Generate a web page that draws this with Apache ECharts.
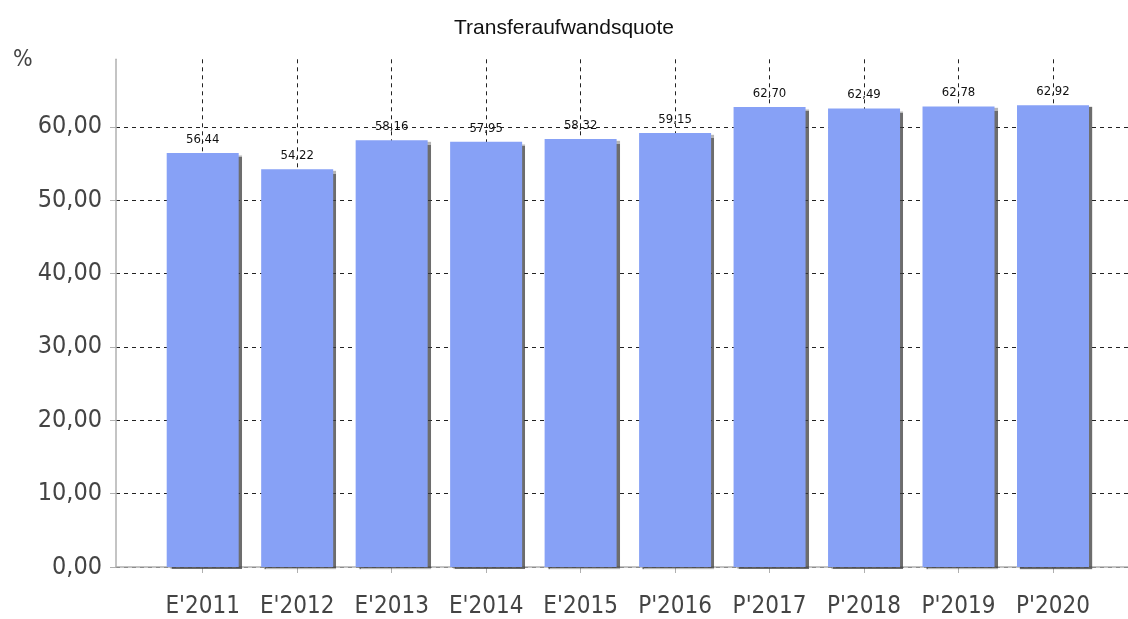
<!DOCTYPE html>
<html>
<head>
<meta charset="utf-8">
<title>Transferaufwandsquote</title>
<script src="https://cdn.jsdelivr.net/npm/echarts@6/dist/echarts.min.js"></script>
<style>
    html, body { margin: 0; padding: 0; background: #fff; }
    #chart { width: 1128px; height: 619px; }
</style>
</head>
<body>
<div id="chart"></div>
<script>
// Daten
var jahre = ["E'2011", "E'2012", "E'2013", "E'2014", "E'2015", "P'2016", "P'2017", "P'2018", "P'2019", "P'2020"];
var quote = [56.44, 54.22, 58.16, 57.95, 58.32, 59.15, 62.70, 62.49, 62.78, 62.92];
var yMax = 69.2;
var yStep = 10;

function komma(v) {
    return v.toFixed(2).replace('.', ',');
}

var chart = echarts.init(document.getElementById('chart'));

var schrift = "'DejaVu Sans Condensed', 'Liberation Sans', sans-serif";
var titelSchrift = "'Liberation Sans', sans-serif";

// gestrichelte Linien, die oberste (bei max) unsichtbar
var linienFarben = ['#222', '#222', '#222', '#222', '#222', '#222', '#222', 'rgba(0,0,0,0)'];

var option = {
    animation: false,
    title: [{
        text: 'Transferaufwandsquote',
        left: 'center',
        top: 13,
        textStyle: {
            fontFamily: titelSchrift,
            fontSize: 21,
            fontWeight: 'normal',
            color: '#111'
        }
    }, {
        text: '%',
        left: 8,
        top: 44,
        textStyle: {
            fontFamily: schrift,
            fontSize: 23,
            fontWeight: 'normal',
            color: '#444'
        }
    }],
    grid: [
        // Balken (Kategorien an den Punkten)
        { left: 202.7, right: 75, top: 59.3, bottom: 52 },
        // Y-Achse und horizontale Linien
        { left: 116, right: 0, top: 59.3, bottom: 52 }
    ],
    xAxis: [{
        gridIndex: 0,
        type: 'category',
        boundaryGap: false,
        data: jahre,
        axisLine: { show: false },
        axisTick: {
            show: true,
            interval: 0,
            length: 6,
            lineStyle: { color: '#b0b0b0' }
        },
        axisLabel: {
            interval: 0,
            fontFamily: schrift,
            fontSize: 24,
            color: '#444',
            margin: 28
        },
        splitLine: {
            show: true,
            interval: 0,
            lineStyle: { color: '#222', type: [4, 4], width: 1 }
        }
    }, {
        gridIndex: 1,
        type: 'value',
        min: 0,
        max: 1,
        axisLine: { show: true, onZero: false, lineStyle: { color: '#b0b0b0', width: 1.5 } },
        axisTick: { show: false },
        axisLabel: { show: false },
        splitLine: { show: false }
    }],
    yAxis: [{
        gridIndex: 0,
        type: 'value',
        min: 0,
        max: yMax,
        interval: yStep,
        show: false,
        splitLine: { show: false }
    }, {
        gridIndex: 1,
        type: 'value',
        min: 0,
        max: yMax,
        interval: yStep,
        axisLine: { show: true, lineStyle: { color: '#b0b0b0', width: 1.5 } },
        axisTick: { show: true, length: 6, lineStyle: { color: '#b0b0b0' } },
        axisLabel: {
            fontFamily: schrift,
            fontSize: 25,
            color: '#444',
            margin: 14,
            showMaxLabel: false,
            formatter: function (v) {
                return v % yStep === 0 ? komma(v) : '';
            }
        },
        splitLine: {
            show: true,
            lineStyle: { color: linienFarben, type: [4, 4], width: 1 }
        }
    }],
    series: [{
        name: 'Transferaufwandsquote',
        type: 'bar',
        xAxisIndex: 0,
        yAxisIndex: 0,
        data: quote,
        barWidth: 72,
        clip: false,
        itemStyle: {
            color: '#87a1f6',
            shadowColor: 'rgba(60,60,60,0.75)',
            shadowOffsetX: 3,
            shadowOffsetY: 2,
            shadowBlur: 1
        },
        label: {
            show: true,
            position: 'top',
            distance: 7,
            fontFamily: schrift,
            fontSize: 13,
            color: '#111',
            formatter: function (p) {
                return komma(p.value);
            }
        }
    }]
};

chart.setOption(option);
</script>
</body>
</html>
